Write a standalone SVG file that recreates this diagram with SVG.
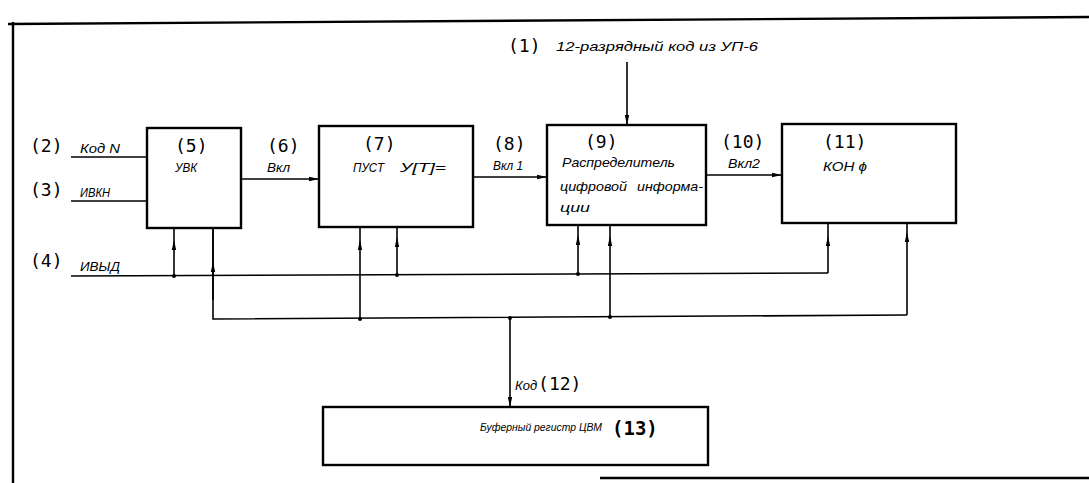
<svg xmlns="http://www.w3.org/2000/svg" width="1089" height="483" viewBox="0 0 1089 483">
<style>
.box{fill:#fff;stroke:#000;stroke-width:2.4}
.ln{fill:none;stroke:#000;stroke-width:1.6}
.fr{fill:none;stroke:#000;stroke-width:2.4}
.num{font-family:"DejaVu Sans Mono","Liberation Mono",monospace;font-size:18px;fill:#000}
.lbl{font-family:"Liberation Sans","DejaVu Sans",sans-serif;font-style:italic;font-size:13px;fill:#000}
.dot{fill:#000}
</style>
<defs>
<marker id="ah" viewBox="0 0 10 6" refX="10" refY="3" markerWidth="10" markerHeight="6" markerUnits="userSpaceOnUse" orient="auto">
<path d="M0,0.8 L10,3 L0,5.2 z" fill="#000"/>
</marker>
</defs>
<g id="frame">
<path class="fr" d="M8,24 L1089,17"/>
<path class="fr" d="M13,22 V483"/>
<path class="fr" d="M600,478 H1089"/>
</g>
<g id="connectors">
<path class="ln" d="M627,62 V125" marker-end="url(#ah)"/>
<path class="ln" d="M71,157 H147"/>
<path class="ln" d="M71,201 H147"/>
<path class="ln" d="M241,179 H319" marker-end="url(#ah)"/>
<path class="ln" d="M473,177 H547" marker-end="url(#ah)"/>
<path class="ln" d="M706,175 H782" marker-end="url(#ah)"/>
<path class="ln" d="M71,276 L828,273"/>
<path class="ln" d="M174,276 V240 V228" marker-mid="url(#ah)"/>
<path class="ln" d="M397,275 V237 V227" marker-mid="url(#ah)"/>
<path class="ln" d="M578,274 V235 V225" marker-mid="url(#ah)"/>
<path class="ln" d="M828,273 V236 V223" marker-mid="url(#ah)"/>
<path class="ln" d="M213,228 V319 L907,315"/>
<path class="ln" d="M213,300 V262 V228" marker-mid="url(#ah)"/>
<path class="ln" d="M360,319 V240 V227" marker-mid="url(#ah)"/>
<path class="ln" d="M610,317 V236 V225" marker-mid="url(#ah)"/>
<path class="ln" d="M907,315 V232 V223" marker-mid="url(#ah)"/>
<path class="ln" d="M510,318 V407" marker-end="url(#ah)"/>
<circle class="dot" cx="174" cy="276" r="2"/>
<circle class="dot" cx="397" cy="275" r="2"/>
<circle class="dot" cx="578" cy="274" r="2"/>
<circle class="dot" cx="360" cy="319" r="2"/>
<circle class="dot" cx="510" cy="318" r="2"/>
<circle class="dot" cx="610" cy="317" r="2"/>
</g>
<g id="inputs">
<text class="num" x="508" y="52">(1)</text>
<text class="lbl" x="556" y="51" textLength="202" lengthAdjust="spacingAndGlyphs">12-разрядный код из УП-6</text>
<text class="num" x="30" y="152">(2)</text>
<text class="lbl" x="80" y="153" textLength="40" lengthAdjust="spacingAndGlyphs">Код N</text>
<text class="num" x="30" y="196">(3)</text>
<text class="lbl" x="80" y="197" textLength="30" lengthAdjust="spacingAndGlyphs">ИВКН</text>
<text class="num" x="30" y="267">(4)</text>
<text class="lbl" x="80" y="271" textLength="40" lengthAdjust="spacingAndGlyphs">ИВЫД</text>
<text class="num" x="267" y="152">(6)</text>
<text class="lbl" x="267" y="172" textLength="23" lengthAdjust="spacingAndGlyphs">Вкл</text>
<text class="num" x="493" y="150">(8)</text>
<text class="lbl" x="493" y="170" textLength="30" lengthAdjust="spacingAndGlyphs">Вкл 1</text>
<text class="num" x="721" y="148">(10)</text>
<text class="lbl" x="728" y="168" textLength="32" lengthAdjust="spacingAndGlyphs">Вкл2</text>
<text x="515" y="390"><tspan class="lbl">Код</tspan><tspan class="num" dx="1">(12)</tspan></text>
</g>
<g id="n5">
<rect class="box" x="147" y="128" width="94" height="100"/>
<text class="num" x="175" y="152">(5)</text>
<text class="lbl" x="175" y="172" textLength="22" lengthAdjust="spacingAndGlyphs">УВК</text>
</g>
<g id="n7">
<rect class="box" x="319" y="126" width="154" height="101"/>
<text class="num" x="363" y="150">(7)</text>
<text class="lbl" x="353" y="172" textLength="31" lengthAdjust="spacingAndGlyphs">ПУСТ</text>
<text class="lbl" x="400" y="172" textLength="46" lengthAdjust="spacingAndGlyphs">У[Т]=</text>
</g>
<g id="n9">
<rect class="box" x="547" y="125" width="159" height="100"/>
<text class="num" x="585" y="148">(9)</text>
<text class="lbl" x="562" y="167" textLength="113" lengthAdjust="spacingAndGlyphs">Распределитель</text>
<text class="lbl" x="560" y="191" textLength="67" lengthAdjust="spacingAndGlyphs">цифровой</text>
<text class="lbl" x="637" y="191" textLength="66" lengthAdjust="spacingAndGlyphs">информа-</text>
<text class="lbl" x="560" y="212" textLength="30" lengthAdjust="spacingAndGlyphs">ции</text>
</g>
<g id="n11">
<rect class="box" x="782" y="124" width="174" height="99"/>
<text class="num" x="823" y="148">(11)</text>
<text class="lbl" x="823" y="171" textLength="44" lengthAdjust="spacingAndGlyphs">КОН ϕ</text>
</g>
<g id="n13">
<rect class="box" x="323" y="407" width="385" height="58"/>
<text class="lbl" x="480" y="431" style="font-size:11px" textLength="122" lengthAdjust="spacingAndGlyphs">Буферный регистр ЦВМ</text>
<text class="num" x="612" y="435" style="font-weight:bold;font-size:19px">(13)</text>
</g>
</svg>
